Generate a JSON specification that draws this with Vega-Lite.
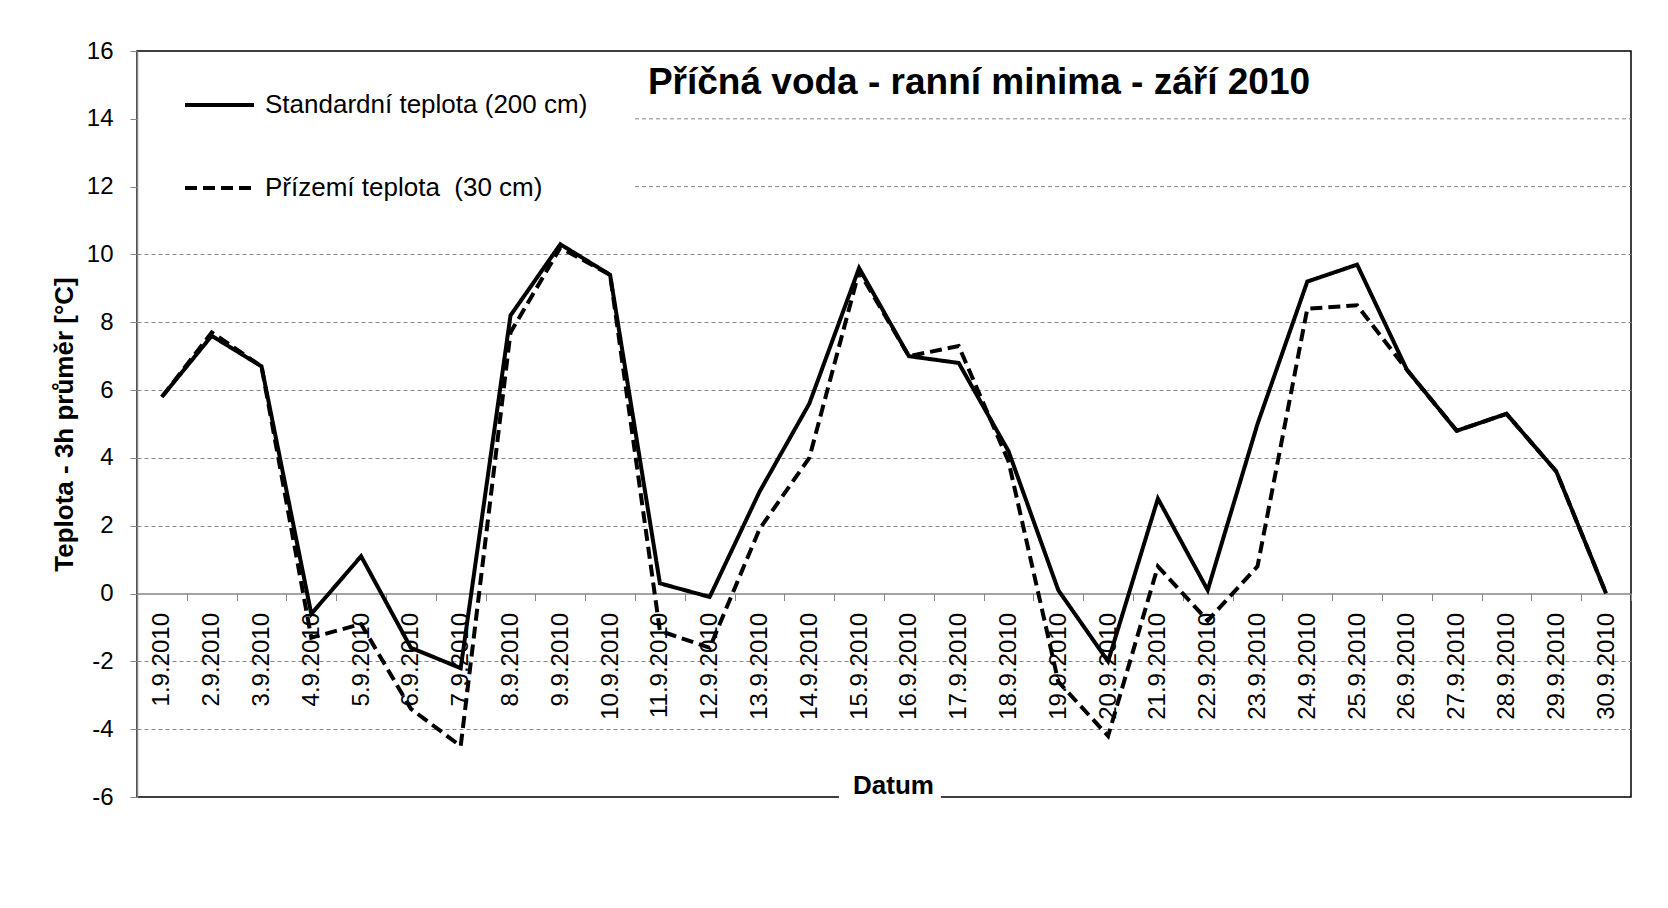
{
  "$schema": "https://vega.github.io/schema/vega-lite/v6.json",
  "width": 1494,
  "height": 746,
  "autosize": {"type": "none"},
  "padding": {"left": 137, "top": 51, "right": 37, "bottom": 111},
  "background": "white",
  "config": {"font": "Liberation Sans", "view": {"stroke": "black", "strokeWidth": 1.5}},
  "title": {"text": "Příčná voda - ranní minima - září 2010", "font": "Liberation Sans", "fontSize": 37, "fontWeight": "bold", "color": "black", "anchor": "middle", "frame": "group", "orient": "top", "offset": 0, "baseline": "alphabetic", "dx": 95, "dy": 92},
  "layer": [
    {
      "data": {"values": [{}]},
      "mark": {"type": "rule", "color": "#868686", "strokeDash": [4, 3], "strokeWidth": 1},
      "encoding": {
        "y": {"datum": 14, "type": "quantitative"},
        "x": {"datum": "11.9.2010", "type": "ordinal", "bandPosition": 0},
        "x2": {"value": "width"}
      }
    },
    {
      "data": {"values": [{}]},
      "mark": {"type": "rule", "color": "#868686", "strokeDash": [4, 3], "strokeWidth": 1},
      "encoding": {
        "y": {"datum": 12, "type": "quantitative"},
        "x": {"datum": "11.9.2010", "type": "ordinal", "bandPosition": 0},
        "x2": {"value": "width"}
      }
    },
    {
      "data": {"values": [{}]},
      "mark": {"type": "tick", "color": "white", "orient": "horizontal", "size": 102, "thickness": 5, "xOffset": -19, "opacity": 1},
      "encoding": {
        "y": {"datum": -6, "type": "quantitative"},
        "x": {"datum": "16.9.2010", "type": "ordinal"}
      }
    },
    {
      "data": {"values": [
        {"den": 1, "datum": "1.9.2010", "rada": "Standardní teplota (200 cm)", "teplota": 5.8},
        {"den": 2, "datum": "2.9.2010", "rada": "Standardní teplota (200 cm)", "teplota": 7.6},
        {"den": 3, "datum": "3.9.2010", "rada": "Standardní teplota (200 cm)", "teplota": 6.7},
        {"den": 4, "datum": "4.9.2010", "rada": "Standardní teplota (200 cm)", "teplota": -0.6},
        {"den": 5, "datum": "5.9.2010", "rada": "Standardní teplota (200 cm)", "teplota": 1.1},
        {"den": 6, "datum": "6.9.2010", "rada": "Standardní teplota (200 cm)", "teplota": -1.6},
        {"den": 7, "datum": "7.9.2010", "rada": "Standardní teplota (200 cm)", "teplota": -2.2},
        {"den": 8, "datum": "8.9.2010", "rada": "Standardní teplota (200 cm)", "teplota": 8.2},
        {"den": 9, "datum": "9.9.2010", "rada": "Standardní teplota (200 cm)", "teplota": 10.3},
        {"den": 10, "datum": "10.9.2010", "rada": "Standardní teplota (200 cm)", "teplota": 9.4},
        {"den": 11, "datum": "11.9.2010", "rada": "Standardní teplota (200 cm)", "teplota": 0.3},
        {"den": 12, "datum": "12.9.2010", "rada": "Standardní teplota (200 cm)", "teplota": -0.1},
        {"den": 13, "datum": "13.9.2010", "rada": "Standardní teplota (200 cm)", "teplota": 3.0},
        {"den": 14, "datum": "14.9.2010", "rada": "Standardní teplota (200 cm)", "teplota": 5.6},
        {"den": 15, "datum": "15.9.2010", "rada": "Standardní teplota (200 cm)", "teplota": 9.6},
        {"den": 16, "datum": "16.9.2010", "rada": "Standardní teplota (200 cm)", "teplota": 7.0},
        {"den": 17, "datum": "17.9.2010", "rada": "Standardní teplota (200 cm)", "teplota": 6.8},
        {"den": 18, "datum": "18.9.2010", "rada": "Standardní teplota (200 cm)", "teplota": 4.2},
        {"den": 19, "datum": "19.9.2010", "rada": "Standardní teplota (200 cm)", "teplota": 0.1},
        {"den": 20, "datum": "20.9.2010", "rada": "Standardní teplota (200 cm)", "teplota": -2.0},
        {"den": 21, "datum": "21.9.2010", "rada": "Standardní teplota (200 cm)", "teplota": 2.8},
        {"den": 22, "datum": "22.9.2010", "rada": "Standardní teplota (200 cm)", "teplota": 0.1},
        {"den": 23, "datum": "23.9.2010", "rada": "Standardní teplota (200 cm)", "teplota": 5.0},
        {"den": 24, "datum": "24.9.2010", "rada": "Standardní teplota (200 cm)", "teplota": 9.2},
        {"den": 25, "datum": "25.9.2010", "rada": "Standardní teplota (200 cm)", "teplota": 9.7},
        {"den": 26, "datum": "26.9.2010", "rada": "Standardní teplota (200 cm)", "teplota": 6.6},
        {"den": 27, "datum": "27.9.2010", "rada": "Standardní teplota (200 cm)", "teplota": 4.8},
        {"den": 28, "datum": "28.9.2010", "rada": "Standardní teplota (200 cm)", "teplota": 5.3},
        {"den": 29, "datum": "29.9.2010", "rada": "Standardní teplota (200 cm)", "teplota": 3.6},
        {"den": 30, "datum": "30.9.2010", "rada": "Standardní teplota (200 cm)", "teplota": 0.0},
        {"den": 1, "datum": "1.9.2010", "rada": "Přízemí teplota  (30 cm)", "teplota": 5.8},
        {"den": 2, "datum": "2.9.2010", "rada": "Přízemí teplota  (30 cm)", "teplota": 7.7},
        {"den": 3, "datum": "3.9.2010", "rada": "Přízemí teplota  (30 cm)", "teplota": 6.7},
        {"den": 4, "datum": "4.9.2010", "rada": "Přízemí teplota  (30 cm)", "teplota": -1.3},
        {"den": 5, "datum": "5.9.2010", "rada": "Přízemí teplota  (30 cm)", "teplota": -0.9},
        {"den": 6, "datum": "6.9.2010", "rada": "Přízemí teplota  (30 cm)", "teplota": -3.4},
        {"den": 7, "datum": "7.9.2010", "rada": "Přízemí teplota  (30 cm)", "teplota": -4.5},
        {"den": 8, "datum": "8.9.2010", "rada": "Přízemí teplota  (30 cm)", "teplota": 7.7},
        {"den": 9, "datum": "9.9.2010", "rada": "Přízemí teplota  (30 cm)", "teplota": 10.2},
        {"den": 10, "datum": "10.9.2010", "rada": "Přízemí teplota  (30 cm)", "teplota": 9.4},
        {"den": 11, "datum": "11.9.2010", "rada": "Přízemí teplota  (30 cm)", "teplota": -1.1},
        {"den": 12, "datum": "12.9.2010", "rada": "Přízemí teplota  (30 cm)", "teplota": -1.6},
        {"den": 13, "datum": "13.9.2010", "rada": "Přízemí teplota  (30 cm)", "teplota": 1.9},
        {"den": 14, "datum": "14.9.2010", "rada": "Přízemí teplota  (30 cm)", "teplota": 4.0},
        {"den": 15, "datum": "15.9.2010", "rada": "Přízemí teplota  (30 cm)", "teplota": 9.5},
        {"den": 16, "datum": "16.9.2010", "rada": "Přízemí teplota  (30 cm)", "teplota": 7.0},
        {"den": 17, "datum": "17.9.2010", "rada": "Přízemí teplota  (30 cm)", "teplota": 7.3},
        {"den": 18, "datum": "18.9.2010", "rada": "Přízemí teplota  (30 cm)", "teplota": 3.9},
        {"den": 19, "datum": "19.9.2010", "rada": "Přízemí teplota  (30 cm)", "teplota": -2.6},
        {"den": 20, "datum": "20.9.2010", "rada": "Přízemí teplota  (30 cm)", "teplota": -4.2},
        {"den": 21, "datum": "21.9.2010", "rada": "Přízemí teplota  (30 cm)", "teplota": 0.8},
        {"den": 22, "datum": "22.9.2010", "rada": "Přízemí teplota  (30 cm)", "teplota": -0.8},
        {"den": 23, "datum": "23.9.2010", "rada": "Přízemí teplota  (30 cm)", "teplota": 0.8},
        {"den": 24, "datum": "24.9.2010", "rada": "Přízemí teplota  (30 cm)", "teplota": 8.4},
        {"den": 25, "datum": "25.9.2010", "rada": "Přízemí teplota  (30 cm)", "teplota": 8.5},
        {"den": 26, "datum": "26.9.2010", "rada": "Přízemí teplota  (30 cm)", "teplota": 6.6},
        {"den": 27, "datum": "27.9.2010", "rada": "Přízemí teplota  (30 cm)", "teplota": 4.8},
        {"den": 28, "datum": "28.9.2010", "rada": "Přízemí teplota  (30 cm)", "teplota": 5.3},
        {"den": 29, "datum": "29.9.2010", "rada": "Přízemí teplota  (30 cm)", "teplota": 3.6},
        {"den": 30, "datum": "30.9.2010", "rada": "Přízemí teplota  (30 cm)", "teplota": 0.0}
      ]},
      "mark": {"type": "line", "color": "black", "strokeWidth": 4},
      "encoding": {
        "x": {
          "field": "datum", "type": "ordinal",
          "scale": {"type": "band", "paddingInner": 0, "paddingOuter": 0, "domain": ["1.9.2010","2.9.2010","3.9.2010","4.9.2010","5.9.2010","6.9.2010","7.9.2010","8.9.2010","9.9.2010","10.9.2010","11.9.2010","12.9.2010","13.9.2010","14.9.2010","15.9.2010","16.9.2010","17.9.2010","18.9.2010","19.9.2010","20.9.2010","21.9.2010","22.9.2010","23.9.2010","24.9.2010","25.9.2010","26.9.2010","27.9.2010","28.9.2010","29.9.2010","30.9.2010"]},
          "axis": {"title": "Datum", "orient": "bottom", "offset": -203.5, "tickBand": "extent", "labelAngle": -90, "labelFontSize": 24, "labelColor": "black", "labelPadding": 12, "labelOverlap": false, "tickSize": 7, "tickColor": "#868686", "domainColor": "#868686", "domainWidth": 1.5, "grid": false, "titleFontSize": 26, "titleFontWeight": "bold", "titleColor": "black", "titleX": 756, "titleY": 199.5, "titleBaseline": "alphabetic", "titleAlign": "center", "titleAngle": 0}
        },
        "y": {
          "field": "teplota", "type": "quantitative",
          "scale": {"domain": [-6, 16], "nice": false, "zero": false},
          "axis": {"title": "Teplota - 3h průměr [°C]", "values": [-6, -4, -2, 0, 2, 4, 6, 8, 10, 12, 14, 16], "labelExpr": "'' + datum.value", "labelFontSize": 24, "labelColor": "black", "labelPadding": 17, "tickSize": 7, "tickColor": "#868686", "domainColor": "#868686", "domainWidth": 1.5, "grid": true, "gridColor": "#868686", "gridDash": [4, 3], "gridOpacity": {"condition": {"test": "datum.value >= 12 || datum.value == 0 || datum.value == -6", "value": 0}, "value": 1}, "titleFontSize": 26, "titleFontWeight": "bold", "titleColor": "black", "titleX": -73, "titleY": 373, "titleAlign": "center", "titleBaseline": "middle", "titleAngle": -90}
        },
        "strokeDash": {
          "field": "rada", "type": "nominal",
          "scale": {"domain": ["Standardní teplota (200 cm)", "Přízemí teplota  (30 cm)"], "range": [[1, 0], [12, 6]]},
          "legend": {"title": null, "orient": "none", "legendX": 46, "legendY": 41, "symbolType": "stroke", "symbolSize": 4761, "symbolStrokeWidth": 4, "symbolStrokeColor": "black", "labelFontSize": 26, "labelColor": "black", "labelOffset": 9, "labelExpr": "replace(datum.label, '  ', ' \u00a0')", "rowPadding": 57, "clipHeight": 26, "padding": 0, "labelLimit": 600}
        },
        "order": {"field": "den", "type": "quantitative"}
      }
    }
  ]
}
